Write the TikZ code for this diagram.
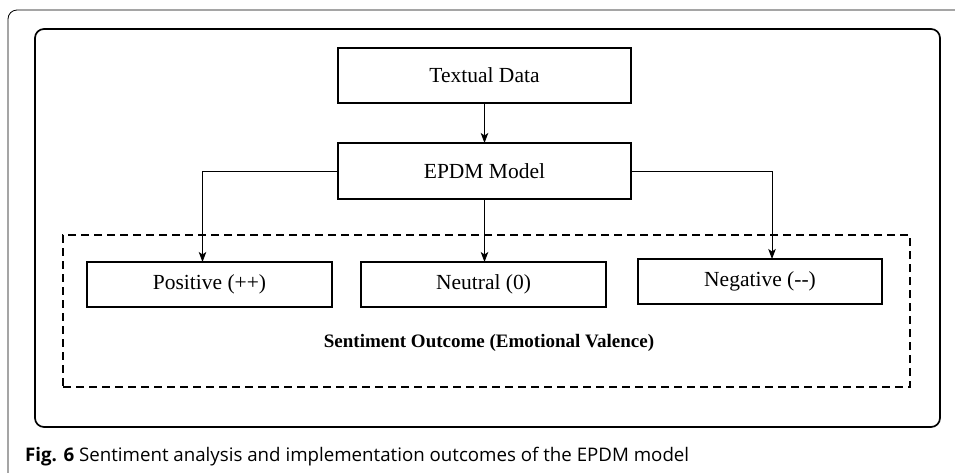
\documentclass[tikz,border=0pt]{standalone}
\usepackage{fontspec}
\setmainfont{Liberation Serif}
\newfontfamily\capfont{Open Sans}
\usetikzlibrary{arrows.meta}
\tikzset{
	stagebox/.style={draw, line width=1.5pt, inner sep=0, outer sep=0,
		minimum width=#1, minimum height=55pt, font=\fontsize{21.5}{24}\selectfont},
	stagebox/.default=293pt,
	valbox/.style={stagebox=245pt, minimum height=45pt},
	flow/.style={line width=0.9pt, -{Stealth[length=10pt,width=7.5pt,inset=2.5pt]}}
}
\begin{document}
\begin{tikzpicture}[x=1pt,y=-1pt]
	\useasboundingbox (0,0) rectangle (955,472);
	% figure frame and panel
	\draw[line width=0.8pt, rounded corners=9pt] (8,475) -- (8,10) -- (958,10);
	\draw[line width=1.7pt, rounded corners=9pt] (35,29) rectangle (940,427);
	% outcome group
	\node[draw, dashed, line width=1.6pt, dash pattern=on 8pt off 5pt, minimum width=847pt,
		minimum height=152pt, inner sep=0] (outcome) at (486.5,311) {};
	\node[font=\bfseries\fontsize{19}{22}\selectfont] (outlab) at (489,343) {Sentiment Outcome (Emotional Valence)};
	\node[stagebox] (txt) at (484.5,75.5) {Textual Data};
	\node[stagebox, minimum height=56pt] (epdm) at (484.5,171) {EPDM Model};
	\node[valbox] (pos) at (209.5,284.5) {Positive (++)};
	\node[valbox] (neu) at (483.5,284.5) {Neutral (0)};
	\node[valbox, minimum width=244pt] (neg) at (760,281.5) {Negative ({-}{-})};
	\draw[flow] (txt) -- (epdm);
	\draw[flow] (epdm.west) -| ([xshift=-7pt]pos.north);
	\draw[flow] (epdm.south) -- (epdm.south |- neu.north);
	\draw[flow] (epdm.east) -| ([xshift=12pt]neg.north);
	% caption
	\node[anchor=west, inner sep=0, font=\capfont\fontsize{18.7}{22}\selectfont] (cap) at (25,457)
		{\textbf{Fig. 6} Sentiment analysis and implementation outcomes of the EPDM model};
\end{tikzpicture}
\end{document}
